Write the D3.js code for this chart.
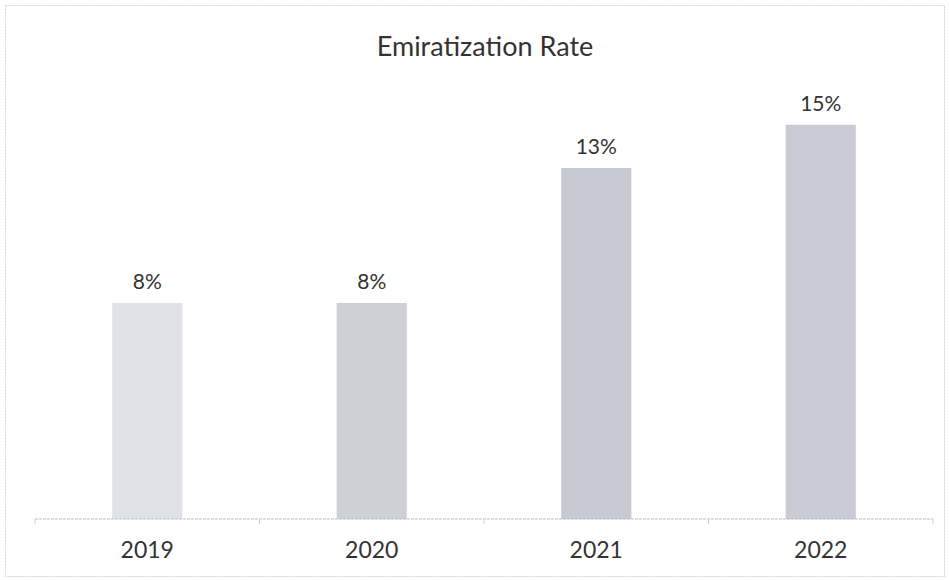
<!DOCTYPE html>
<html>
<head>
<meta charset="utf-8">
<script src="https://cdn.jsdelivr.net/npm/d3@7"></script>
<style>
  body { margin: 0; background: #fff; }
  text { font-family: Lato, "Open Sans", sans-serif; fill: #333; }
</style>
</head>
<body>
<div id="chart"></div>
<script>
// data
const years = ["2019", "2020", "2021", "2022"];
const rates = [0.08, 0.08, 0.13, 0.146];
const barColors = ["#e1e1e8", "#cfcfd8", "#c8c8d2", "#cacad4"];

const data = years.map((y, i) => ({ year: y, rate: rates[i], color: barColors[i] }));

const svg = d3.select("#chart").append("svg")
    .attr("width", 949)
    .attr("height", 580);

// outer frame (light dotted scan border)
svg.append("rect")
    .attr("x", 5.5)
    .attr("y", 5.5)
    .attr("width", 939)
    .attr("height", 571)
    .attr("fill", "none")
    .attr("stroke", "#d4d4d8")
    .attr("stroke-dasharray", "2,1");

const margin = { top: 87, right: 16, bottom: 61, left: 35 };
const width = 949 - margin.left - margin.right;
const height = 580 - margin.top - margin.bottom;

const chart = svg.append("g")
    .attr("transform", `translate(${margin.left},${margin.top})`);

const x = d3.scaleBand()
    .domain(years)
    .range([0, width])
    .paddingInner(0.6875)
    .paddingOuter(0.34375);

const y = d3.scaleLinear()
    .domain([0, 0.16])
    .range([height, 0]);

// bars
chart.selectAll("rect.bar")
    .data(data)
    .enter()
    .append("rect")
    .attr("class", "bar")
    .attr("x", d => x(d.year))
    .attr("y", d => y(d.rate))
    .attr("width", x.bandwidth())
    .attr("height", d => height - y(d.rate))
    .attr("fill", d => d.color);

// x axis: line with ticks on category boundaries
const step = x.step();
const bounds = d3.range(years.length + 1).map(i => x(years[0]) - (step - x.bandwidth()) / 2 + i * step);
const axis = chart.append("g").attr("transform", `translate(0,${height})`);
axis.append("line")
    .attr("x1", bounds[0])
    .attr("x2", bounds[bounds.length - 1])
    .attr("stroke", "#bcbcc4")
    .attr("stroke-dasharray", "3,1");
axis.selectAll("line.tick")
    .data(bounds)
    .enter()
    .append("line")
    .attr("class", "tick")
    .attr("x1", d => d)
    .attr("x2", d => d)
    .attr("y1", 0)
    .attr("y2", 5)
    .attr("stroke", "#d0d0d6");
axis.selectAll("text")
    .data(years)
    .enter()
    .append("text")
    .attr("x", d => x(d) + x.bandwidth() / 2)
    .attr("y", 39)
    .attr("text-anchor", "middle")
    .style("font-size", "23px")
    .text(d => d);

// value labels
chart.selectAll("text.label")
    .data(data)
    .enter()
    .append("text")
    .attr("class", "label")
    .attr("x", d => x(d.year) + x.bandwidth() / 2)
    .attr("y", d => y(d.rate) - 14)
    .attr("text-anchor", "middle")
    .style("font-size", "21px")
    .text(d => d3.format(".0%")(d.rate));

// title
svg.append("text")
    .attr("x", 485)
    .attr("y", 56)
    .attr("text-anchor", "middle")
    .style("font-size", "27px")
    .text("Emiratization Rate");
</script>
</body>
</html>
